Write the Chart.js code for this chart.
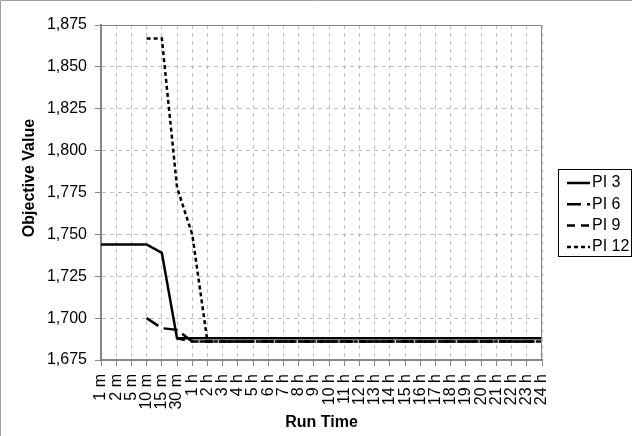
<!DOCTYPE html>
<html>
<head>
<meta charset="utf-8">
<script src="https://cdn.jsdelivr.net/npm/chart.js@4/dist/chart.umd.min.js"></script>
<style>
  html, body { margin: 0; padding: 0; background: #fff; }
  #wrap { width: 632px; height: 436px; }
</style>
</head>
<body>
<div id="wrap"><canvas id="chart" width="632" height="436"></canvas></div>
<script>
// Run time categories (x axis)
const runTimes = ["1 m", "2 m", "5 m", "10 m", "15 m", "30 m",
  "1 h", "2 h", "3 h", "4 h", "5 h", "6 h", "7 h", "8 h", "9 h", "10 h", "11 h", "12 h",
  "13 h", "14 h", "15 h", "16 h", "17 h", "18 h", "19 h", "20 h", "21 h", "22 h", "23 h", "24 h"];

// Objective values
const pi3 = [1744, 1744, 1744, 1744, 1739, 1688,
  1688, 1688, 1688, 1688, 1688, 1688, 1688, 1688, 1688, 1688, 1688, 1688,
  1688, 1688, 1688, 1688, 1688, 1688, 1688, 1688, 1688, 1688, 1688, 1688];
const pi6 = [null, null, null, 1700, 1694, 1693,
  1686, 1686, 1686, 1686, 1686, 1686, 1686, 1686, 1686, 1686, 1686, 1686,
  1686, 1686, 1686, 1686, 1686, 1686, 1686, 1686, 1686, 1686, 1686, 1686];
const pi9 = [null, null, null, null, null, 1688,
  1686, 1686, 1686, 1686, 1686, 1686, 1686, 1686, 1686, 1686, 1686, 1686,
  1686, 1686, 1686, 1686, 1686, 1686, 1686, 1686, 1686, 1686, 1686, 1686];
const pi12 = [null, null, null, 1867, 1867, 1778,
  1750, 1686, 1686, 1686, 1686, 1686, 1686, 1686, 1686, 1686, 1686, 1686,
  1686, 1686, 1686, 1686, 1686, 1686, 1686, 1686, 1686, 1686, 1686, 1686];

const yMin = 1675;
const yMax = 1875;
const yStep = 25;

const font = "'Liberation Sans', Arial, sans-serif";

// Frame, plot border, axis titles and boxed legend
const extras = {
  id: "extras",
  afterDraw(chart) {
    const ctx = chart.ctx;
    const a = chart.chartArea;
    ctx.save();

    // outer frame (left/top)
    ctx.strokeStyle = "#a0a0a0";
    ctx.lineWidth = 1;
    ctx.beginPath();
    ctx.moveTo(0.5, 436);
    ctx.lineTo(0.5, 0.5);
    ctx.lineTo(632, 0.5);
    ctx.stroke();

    // plot area border top/right
    ctx.strokeStyle = "#868686";
    ctx.beginPath();
    ctx.moveTo(a.left, a.top + 0.5);
    ctx.lineTo(a.right - 0.5, a.top + 0.5);
    ctx.lineTo(a.right - 0.5, a.bottom);
    ctx.stroke();

    // axis titles
    ctx.fillStyle = "#000";
    ctx.font = "bold 16px " + font;
    ctx.textAlign = "center";
    ctx.textBaseline = "middle";
    ctx.fillText("Run Time", (a.left + a.right) / 2, 423);
    ctx.save();
    ctx.translate(30, 178);
    ctx.rotate(-Math.PI / 2);
    ctx.fillText("Objective Value", 0, 0);
    ctx.restore();

    // legend
    const lx = 558.5, ly = 169.5, lw = 73, lh = 87;
    ctx.strokeStyle = "#000";
    ctx.lineWidth = 1;
    ctx.strokeRect(lx, ly, lw, lh);
    ctx.font = "16px " + font;
    ctx.textAlign = "left";
    chart.data.datasets.forEach((ds, i) => {
      const y = 183 + i * 21.3;
      ctx.beginPath();
      ctx.setLineDash(ds.borderDash || []);
      ctx.lineWidth = ds.borderWidth;
      ctx.strokeStyle = ds.borderColor;
      ctx.moveTo(567, y);
      ctx.lineTo(590, y);
      ctx.stroke();
      ctx.setLineDash([]);
      ctx.fillStyle = "#000";
      ctx.fillText(ds.label, 592, y);
    });
    ctx.restore();
  }
};

new Chart(document.getElementById("chart"), {
  type: "line",
  data: {
    labels: runTimes,
    datasets: [
      { label: "PI 3", data: pi3, borderColor: "#000", borderWidth: 2.5, borderDash: [] },
      { label: "PI 6", data: pi6, borderColor: "#000", borderWidth: 2.5, borderDash: [14, 6] },
      { label: "PI 9", data: pi9, borderColor: "#000", borderWidth: 2.5, borderDash: [8, 6] },
      { label: "PI 12", data: pi12, borderColor: "#000", borderWidth: 2.5, borderDash: [4, 3] }
    ]
  },
  options: {
    responsive: false,
    animation: false,
    devicePixelRatio: 1,
    layout: { padding: { top: 25, right: 90, left: 0, bottom: 0 } },
    elements: { point: { radius: 0 }, line: { tension: 0 } },
    plugins: { legend: { display: false }, tooltip: { enabled: false } },
    scales: {
      x: {
        type: "category",
        offset: false,
        grid: { color: "#bdbdbd", lineWidth: 1, tickLength: 6, tickColor: "#868686", tickWidth: 1 },
        border: { color: "#868686", width: 2, dash: [4, 4] },
        ticks: {
          autoSkip: false,
          minRotation: 90,
          maxRotation: 90,
          padding: 8,
          color: "#000",
          font: { family: font, size: 16 }
        },
        afterFit(scale) { scale.height = 76; }
      },
      y: {
        min: yMin,
        max: yMax,
        grid: { color: "#bdbdbd", lineWidth: 1, tickLength: 6, tickColor: "#868686", tickWidth: 1 },
        border: { color: "#868686", width: 2, dash: [4, 4] },
        ticks: {
          stepSize: yStep,
          padding: 8,
          color: "#000",
          font: { family: font, size: 16 },
          callback: (v) => v.toLocaleString("en-US")
        },
        afterFit(scale) { scale.width = 101; }
      }
    }
  },
  plugins: [extras]
});
</script>
</body>
</html>
